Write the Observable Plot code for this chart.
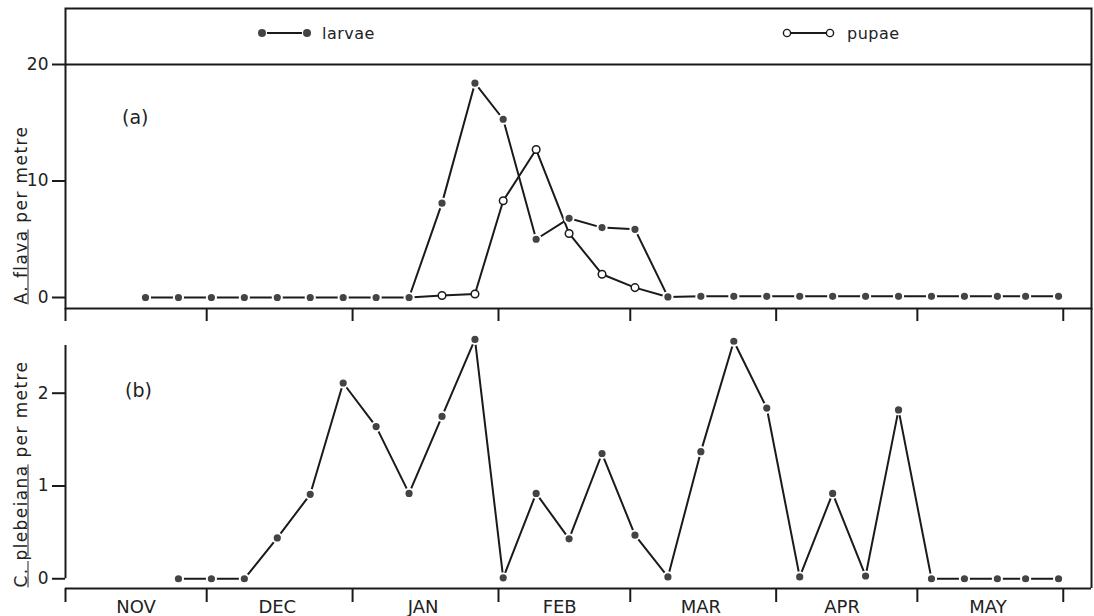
<!DOCTYPE html>
<html><head><meta charset="utf-8">
<script src="https://cdn.jsdelivr.net/npm/d3@7"></script>
<script src="https://cdn.jsdelivr.net/npm/@observablehq/plot@0.6"></script>
<style>
body{margin:0;background:#fff;font-family:"DejaVu Sans",sans-serif;}
#wrap{position:relative;width:1094px;height:616px;overflow:hidden;background:#fff;}
#wrap svg{position:absolute;left:0;}
.lbl{position:absolute;color:#222;white-space:nowrap;line-height:1;}
.ytitle{position:absolute;color:#222;white-space:nowrap;line-height:1;font-size:17px;letter-spacing:1.4px;transform:translate(-50%,-50%) rotate(-90deg);}
.leg{position:absolute;display:flex;align-items:center;height:18px;font-size:16px;color:#222;letter-spacing:0.5px;}
</style></head><body><div id="wrap"></div>
<script>
// ---- data ----
const sampleDates = ["1960-11-18","1960-11-25","1960-12-02","1960-12-09","1960-12-16","1960-12-23","1960-12-30",
  "1961-01-06","1961-01-13","1961-01-20","1961-01-27","1961-02-02","1961-02-09","1961-02-16","1961-02-23",
  "1961-03-02","1961-03-09","1961-03-16","1961-03-23","1961-03-30","1961-04-06","1961-04-13","1961-04-20",
  "1961-04-27","1961-05-04","1961-05-11","1961-05-18","1961-05-24","1961-05-31"];
const larvae = [0,0,0,0,0,0,0,0,0, 8.1,18.4,15.3,5.0,6.8,6.0,5.85,0.05,
  0.1,0.1,0.1,0.1,0.1,0.1,0.1,0.1,0.1,0.1,0.1,0.1];
const pupae = [null,null,null,null,null,null,null,null, 0,0.17,0.3,8.3,12.7,5.5,2.0,0.85,0.05,
  null,null,null,null,null,null,null,null,null,null,null,null];
const plebeiana = [null,0,0,0,0.44,0.91,2.11,1.64,0.92,1.75,2.58,0.01,0.92,0.43,1.35,0.47,0.02,
  1.37,2.56,1.84,0.02,0.92,0.03,1.82,0,0,0,0,0];
const monthStarts = ["1960-11-01","1960-12-01","1961-01-01","1961-02-01","1961-03-01","1961-04-01","1961-05-01","1961-06-01"];
const monthMids = ["1960-11-16","1960-12-16","1961-01-16","1961-02-14","1961-03-16","1961-04-15","1961-05-16"];
const monthLabels = ["NOV","DEC","JAN","FEB","MAR","APR","MAY"];
const ticksA = [0,10,20];
const ticksB = [0,1,2];
const seriesNames = ["larvae","pupae"];
const speciesA = "A. flava", speciesB = "C. plebeiana", unitText = " per metre";
const panelNames = ["(a)","(b)"];

// ---- build ----
const parse = s => new Date(s + "T00:00:00Z");
const xDomain = [parse("1960-11-01"), parse("1961-06-07")];
const ink = "#1a1a1a";
const rows = sampleDates.map((d,i) => ({date: parse(d), larvae: larvae[i], pupae: pupae[i], pleb: plebeiana[i]}));
const pupRows = rows.filter(d => d.pupae != null);
const plebRows = rows.filter(d => d.pleb != null);
const monthFmt = d => monthLabels[(d.getUTCMonth() + 2) % 12];
const intFmt = d => String(d);
const baseStyle = {background:"transparent", fontFamily:"DejaVu Sans", fontSize:"17px", color:"#222", overflow:"visible"};

const yA = [-0.944, 24.807];
const plotA = Plot.plot({
  width:1094, height:322, marginLeft:65, marginRight:3, marginTop:8, marginBottom:14,
  style: baseStyle,
  x:{type:"utc", domain:xDomain},
  y:{domain:yA},
  marks:[
    Plot.frame({stroke:ink, strokeWidth:2}),
    Plot.ruleY([ticksA[2]], {stroke:ink, strokeWidth:2}),
    Plot.axisY({ticks:ticksA, tickSize:13, tickPadding:4, tickFormat:intFmt, label:null, stroke:ink, strokeWidth:2, fontSize:17}),
    Plot.axisX({ticks:monthStarts.map(parse), tickSize:13, tickFormat:() => "", label:null, stroke:ink, strokeWidth:2}),
    Plot.line(pupRows, {x:"date", y:"pupae", stroke:ink, strokeWidth:2}),
    Plot.line(rows, {x:"date", y:"larvae", stroke:ink, strokeWidth:2}),
    Plot.dot(pupRows, {x:"date", y:"pupae", r:3.8, fill:"white", stroke:ink, strokeWidth:1.5}),
    Plot.dot(rows, {x:"date", y:"larvae", r:4.6, fill:"#444", stroke:"white", strokeWidth:2})
  ]
});
plotA.style.top = "0px";

const yB = [-0.105, 2.913];
const plotB = Plot.plot({
  width:1094, height:308, marginLeft:65, marginRight:3, marginTop:0, marginBottom:28,
  style: baseStyle,
  x:{type:"utc", domain:xDomain},
  y:{domain:yB},
  marks:[
    Plot.ruleX([xDomain[0]], {y1:0, y2:2.514, stroke:ink, strokeWidth:2}),
    Plot.ruleX([xDomain[1]], {y1:yB[0], y2:yB[1], stroke:ink, strokeWidth:2}),
    Plot.ruleY([yB[0]], {stroke:ink, strokeWidth:2}),
    Plot.axisY({ticks:ticksB, tickSize:13, tickPadding:4, tickFormat:intFmt, label:null, stroke:ink, strokeWidth:2, fontSize:17}),
    Plot.axisX({ticks:monthStarts.map(parse), tickSize:14, tickFormat:() => "", label:null, stroke:ink, strokeWidth:2}),
    Plot.axisX({ticks:monthMids.map(parse), tickSize:0, tickPadding:12, tickFormat:monthFmt, label:null, fontSize:18}),
    Plot.line(plebRows, {x:"date", y:"pleb", stroke:ink, strokeWidth:2}),
    Plot.dot(plebRows, {x:"date", y:"pleb", r:4.6, fill:"#444", stroke:"white", strokeWidth:2})
  ]
});
plotB.style.top = "308px";

const wrap = document.getElementById("wrap");
wrap.appendChild(plotB);
wrap.appendChild(plotA);

function addHTML(html){ wrap.insertAdjacentHTML("beforeend", html); }
// legend
addHTML(`<div class="leg" style="left:256px;top:24px"><svg width="58" height="18" style="position:static">
  <line x1="11" y1="9" x2="46" y2="9" stroke="${ink}" stroke-width="2"/>
  <circle cx="6" cy="9" r="4" fill="#444"/><circle cx="51" cy="9" r="4" fill="#444"/></svg>
  <span style="margin-left:8px">${seriesNames[0]}</span></div>`);
addHTML(`<div class="leg" style="left:781px;top:24px"><svg width="56" height="18" style="position:static">
  <line x1="10" y1="9" x2="45" y2="9" stroke="${ink}" stroke-width="2"/>
  <circle cx="6" cy="9" r="3.6" fill="white" stroke="${ink}" stroke-width="1.4"/><circle cx="49" cy="9" r="3.6" fill="white" stroke="${ink}" stroke-width="1.4"/></svg>
  <span style="margin-left:10px">${seriesNames[1]}</span></div>`);
// panel letters
addHTML(`<div class="lbl" style="left:122px;top:108px;font-size:19px">${panelNames[0]}</div>`);
addHTML(`<div class="lbl" style="left:125px;top:381px;font-size:19px">${panelNames[1]}</div>`);
// y titles
addHTML(`<div class="ytitle" style="left:21px;top:215px"><u>${speciesA}</u>${unitText}</div>`);
addHTML(`<div class="ytitle" style="left:21px;top:474px"><u>${speciesB}</u>${unitText}</div>`);
</script></body></html>
